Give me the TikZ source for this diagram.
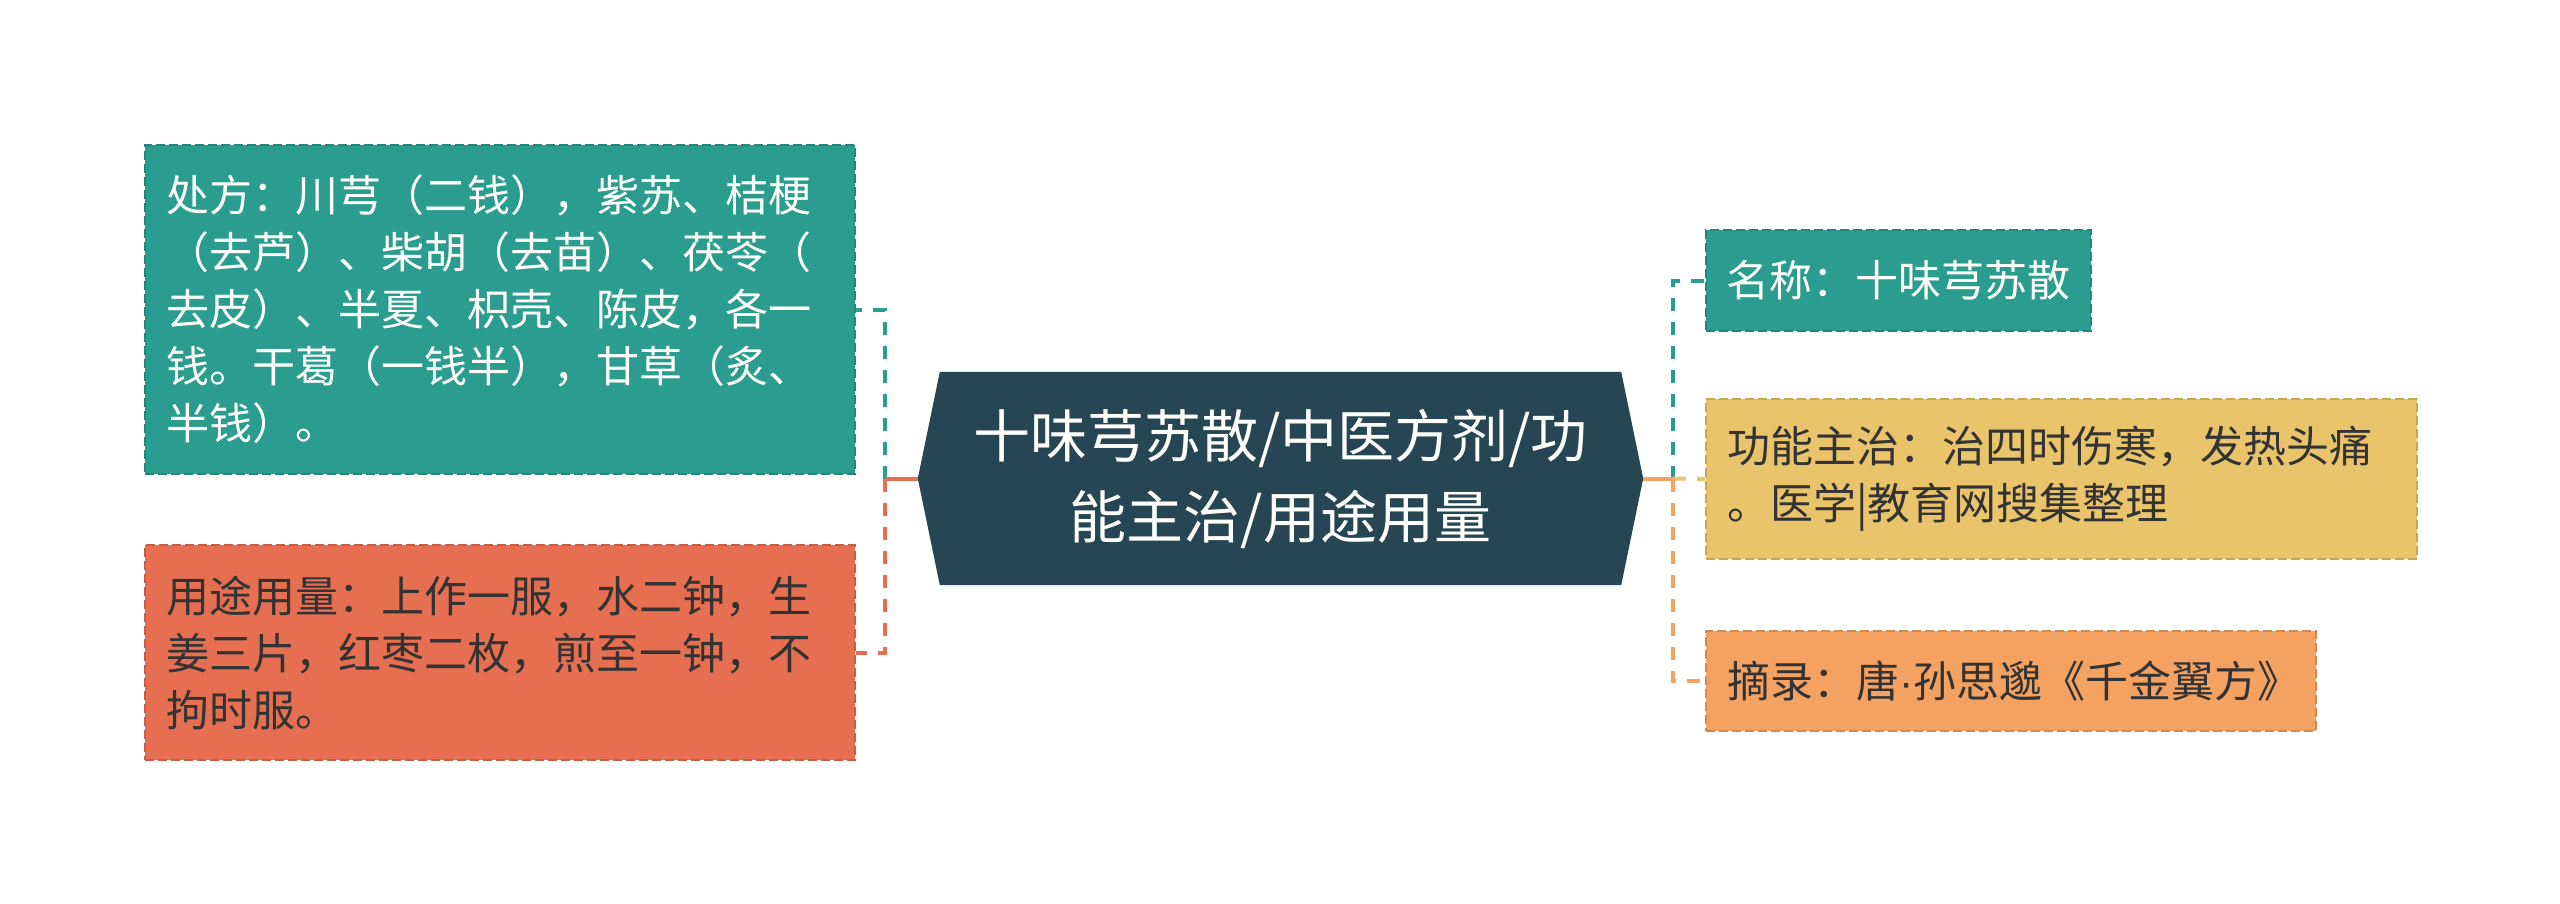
\documentclass[tikz,border=0pt]{standalone}
\usepackage{fontspec}
\setmainfont{Noto Sans CJK SC}
\newfontfamily\dotfont{Liberation Sans}
\usetikzlibrary{backgrounds}
\definecolor{hubcol}{HTML}{264653}
\definecolor{tealcol}{HTML}{2A9D8F}
\definecolor{yelcol}{HTML}{E9C46A}
\definecolor{orgcol}{HTML}{F4A261}
\definecolor{redcol}{HTML}{E76F51}
\definecolor{darktext}{HTML}{333333}
\tikzset{
  leaf/.style={rectangle, anchor=north west, align=left, inner xsep=21pt, inner ysep=0pt,
    line width=2pt, dash pattern=on 9pt off 4pt, font=\fontsize{43}{57}\selectfont},
  stem/.style={line width=4pt},
  branch/.style={line width=4pt, dash pattern=on 13pt off 11pt},
}

\begin{document}
\begin{tikzpicture}[x=1pt,y=-1pt]
\useasboundingbox (0,0) rectangle (2560,903);
\node[align=center, text=white, font=\fontsize{57}{81}\selectfont, minimum width=725pt, minimum height=213pt] (hub) at (1280.5,478.5) {十味芎苏散/中医方剂/功\\能主治/用途用量};
\begin{pgfonlayer}{background}
\fill[white] (0,0) rectangle (2560,903);
\fill[hubcol] (hub.west) -- ([xshift=22pt]hub.north west) -- ([xshift=-22pt]hub.north east) -- (hub.east) -- ([xshift=-22pt]hub.south east) -- ([xshift=22pt]hub.south west) -- cycle;
\end{pgfonlayer}

\node[leaf, fill=tealcol, draw=tealcol!85!black, text=white, minimum width=710pt, minimum height=329pt, text width=668pt] (chufang) at (144,144) {处方：川芎（二钱），紫苏、桔梗\\（去芦）、柴胡（去苗）、茯苓（\\去皮）、半夏、枳壳、陈皮，各一\\钱。干葛（一钱半），甘草（炙、\\半钱）。};
\node[leaf, fill=redcol, draw=redcol!85!black, text=darktext, minimum width=710pt, minimum height=215pt, text width=668pt] (yongtu) at (144,544) {用途用量：上作一服，水二钟，生\\姜三片，红枣二枚，煎至一钟，不\\拘时服。};
\node[leaf, fill=tealcol, draw=tealcol!85!black, text=white, minimum width=385pt, minimum height=101pt, text width=345pt, inner xsep=20pt] (mingcheng) at (1705,229) {名称：十味芎苏散};
\node[leaf, fill=yelcol, draw=yelcol!85!black, text=darktext, minimum width=711pt, minimum height=160pt, text width=669pt] (gongneng) at (1705,398) {功能主治：治四时伤寒，发热头痛\\。医学|教育网搜集整理};
\node[leaf, fill=orgcol, draw=orgcol!85!black, text=darktext, minimum width=610pt, minimum height=100pt, text width=568pt] (zhailu) at (1705,630) {摘录：唐{\dotfont ·}孙思邈《千金翼方》};

\coordinate (ljn) at (885,478.5);
\coordinate (rjn) at (1673,478.5);
\draw[stem, tealcol] (hub.west) -- (ljn);
\draw[branch, tealcol] (ljn) |- (chufang.east);
\draw[stem, redcol] (hub.west) -- (ljn);
\draw[branch, redcol] (ljn) |- (yongtu.east);
\draw[stem, tealcol] (hub.east) -- (rjn);
\draw[branch, tealcol] (rjn) |- (mingcheng.west);
\draw[stem, yelcol] (hub.east) -- (rjn);
\draw[branch, yelcol] (rjn) -- (gongneng.west);
\draw[stem, orgcol] (hub.east) -- (rjn);
\draw[branch, orgcol] (rjn) |- (zhailu.west);
\end{tikzpicture}
\end{document}
